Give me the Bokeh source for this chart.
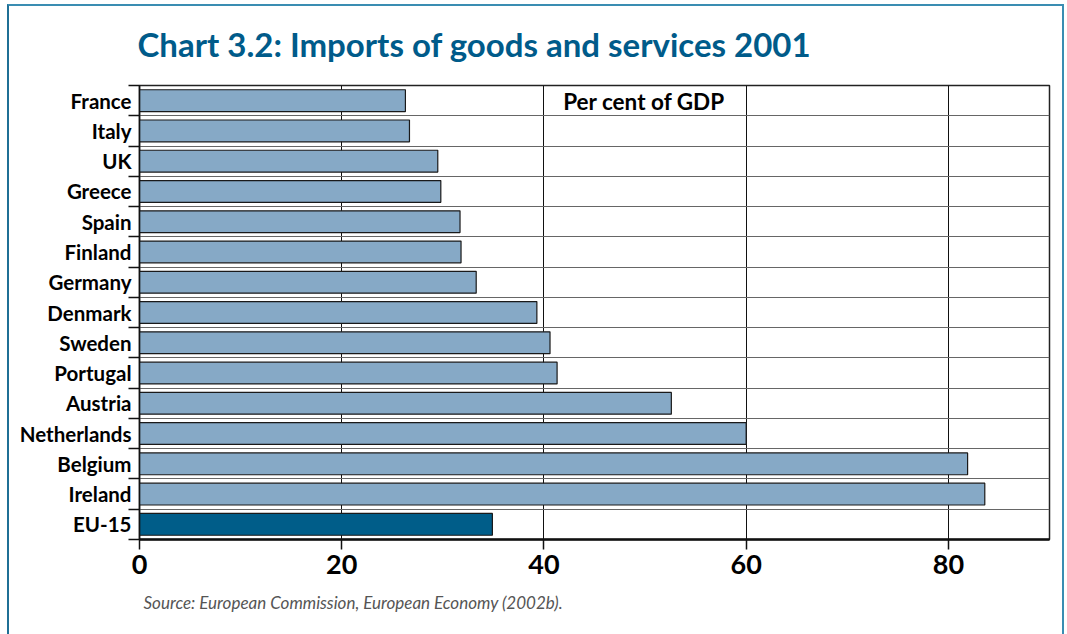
from bokeh.plotting import figure
from bokeh.models import Range1d, FixedTicker, Label, Title, InlineStyleSheet
from bokeh.embed import file_html
from bokeh.resources import INLINE

countries = ["France", "Italy", "UK", "Greece", "Spain", "Finland", "Germany",
             "Denmark", "Sweden", "Portugal", "Austria", "Netherlands",
             "Belgium", "Ireland", "EU-15"]
imports_pct_gdp = [26.3, 26.7, 29.5, 29.8, 31.7, 31.8, 33.3,
                   39.3, 40.6, 41.3, 52.6, 60.0, 81.9, 83.6, 34.9]
x_ticks = [0, 20, 40, 60, 80]

n = len(countries)
centers = [i + 0.5 for i in range(n)]
bounds = list(range(n + 1))
colors = ["#86a9c6"] * (n - 1) + ["#005d89"]

FONT = "Lato"

p = figure(width=1067, height=634, output_backend="svg", toolbar_location=None,
           x_range=Range1d(0, 90), y_range=Range1d(n, 0),
           min_border_left=139, min_border_right=18, min_border_top=84,
           min_border_bottom=95)
p.background_fill_color = "white"
p.border_fill_color = "white"
p.outline_line_color = "#222222"
p.outline_line_width = 1.5

p.hbar(y=centers, right=imports_pct_gdp, left=0, height=0.72,
       fill_color=colors, line_color="#1a1a1a", line_width=1.2)

# y axis
yax = p.yaxis[0]
yax.ticker = FixedTicker(ticks=centers, minor_ticks=bounds)
yax.major_label_overrides = {c: name for c, name in zip(centers, countries)}
yax.major_tick_out = 0
yax.major_tick_in = 0
yax.minor_tick_out = 11
yax.minor_tick_in = 0
yax.minor_tick_line_color = "#111111"
yax.minor_tick_line_width = 1.5
yax.axis_line_color = "#111111"
yax.axis_line_width = 1.5
yax.major_label_text_font = FONT
yax.major_label_text_font_style = "bold"
yax.major_label_text_font_size = "20.5px"
yax.major_label_text_color = "black"
yax.major_label_standoff = -3

# x axis
xax = p.xaxis[0]
xax.ticker = FixedTicker(ticks=x_ticks)
xax.minor_tick_line_color = None
xax.major_tick_out = 10
xax.major_tick_in = 0
xax.major_tick_line_color = "#111111"
xax.major_tick_line_width = 1.5
xax.axis_line_color = "#111111"
xax.axis_line_width = 2.5
xax.major_label_text_font = FONT
xax.major_label_text_font_style = "bold"
xax.major_label_text_font_size = "27px"
xax.major_label_text_color = "black"
xax.major_label_standoff = 5

# grids
p.xgrid.ticker = FixedTicker(ticks=x_ticks[1:])
p.xgrid.grid_line_color = "#111111"
p.xgrid.grid_line_width = 1
p.ygrid.ticker = FixedTicker(ticks=bounds)
p.ygrid.grid_line_color = "#666666"
p.ygrid.grid_line_width = 1

# title
p.title.text = "Chart 3.2: Imports of goods and services 2001"
p.title.text_font = FONT
p.title.text_font_style = "bold"
p.title.text_font_size = "33px"
p.title.text_color = "#005b8a"
p.title.align = "left"
p.title.offset = -2
p.title.standoff = 43

# source
p.add_layout(Title(text="Source: European Commission, European Economy (2002b).",
                   text_font=FONT, text_font_style="italic", text_font_size="17px",
                   text_color="#555555", align="left", offset=4, standoff=26), "below")

# in-plot label
p.add_layout(Label(x=41.9, y=0.53, text="Per cent of GDP",
                   text_font=FONT, text_font_style="bold", text_font_size="22.5px",
                   text_color="black", text_baseline="middle", text_align="left"))

# page frame (CSS overlay)
p.stylesheets = [InlineStyleSheet(css="""
:host { position: relative; }
:host::after {
  content: ""; position: absolute; left: 7px; top: 4px; right: 3px; bottom: 0px;
  border-top: 2.5px solid #3a8db2; border-left: 2.5px solid #1f6f95;
  border-right: 2.5px solid #3a8db2; pointer-events: none; z-index: 10;
}
""")]

open("out.html", "w").write(file_html(p, INLINE))
